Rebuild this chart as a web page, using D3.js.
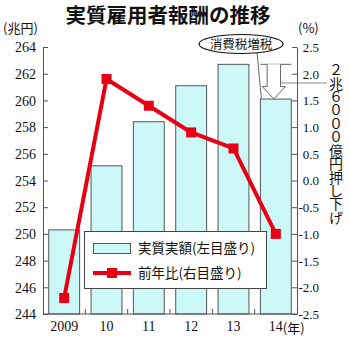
<!DOCTYPE html>
<html>
<head>
<meta charset="utf-8">
<script src="https://cdn.jsdelivr.net/npm/d3@7"></script>
<style>
  html, body { margin: 0; padding: 0; background: #fff; }
  svg { display: block; }
  .num { font-family: "Liberation Serif", "DejaVu Serif", serif; font-size: 14px; fill: #111; }
  .jp { font-family: "Noto Sans CJK JP", sans-serif; fill: #111; }
</style>
</head>
<body>
<svg id="chart" width="350" height="340"></svg>
<script>
// 実質雇用者報酬（兆円）と前年比（％）
const years = ["2009", "10", "11", "12", "13", "14"];
const realAmount = [250.3, 255.1, 258.4, 261.1, 262.7, 260.1];
const yoyChange = [-2.2, 1.9, 1.4, 0.9, 0.6, -1.0];
const leftTicks = [244, 246, 248, 250, 252, 254, 256, 258, 260, 262, 264];
const rightTicks = [-2.5, -2.0, -1.5, -1.0, -0.5, 0.0, 0.5, 1.0, 1.5, 2.0, 2.5];

const svg = d3.select("#chart");
const plotLeft = 43, plotRight = 297, plotTop = 47, plotBottom = 314;
const barFill = "#cdf8f8", barStroke = "#555", red = "#e60013", axisColor = "#555";

const x = d3.scaleBand().domain(years).range([plotLeft, plotRight])
  .paddingInner(0.27).paddingOuter(0.135);
const yL = d3.scaleLinear().domain([244, 264]).range([plotBottom, plotTop]);
const yR = d3.scaleLinear().domain([-2.5, 2.5]).range([plotBottom, plotTop]);

// タイトル
svg.append("text").attr("class", "jp")
  .attr("x", 168).attr("y", 23).attr("text-anchor", "middle")
  .attr("font-size", 20.5).attr("font-weight", "bold")
  .text("実質雇用者報酬の推移");

// 単位
svg.append("text").attr("class", "jp").attr("x", 3).attr("y", 33)
  .attr("font-size", 13).text("(兆円)");
svg.append("text").attr("class", "jp").attr("x", 298).attr("y", 33)
  .attr("font-size", 13).text("(%)");

// 棒（左目盛り）
svg.append("g").selectAll("rect").data(years).join("rect")
  .attr("x", d => x(d))
  .attr("width", x.bandwidth())
  .attr("y", (d, i) => yL(realAmount[i]))
  .attr("height", (d, i) => plotBottom - yL(realAmount[i]))
  .attr("fill", barFill).attr("stroke", barStroke).attr("stroke-width", 1);

// 消費税増税による押し下げ（2013→2014）
const x14 = x("14"), bw = x.bandwidth();
const cx = x14 + bw / 2 - 2;
const yTop = yL(realAmount[4]), yTip = yL(realAmount[5]);
const ann = svg.append("g").attr("stroke", "#666").attr("stroke-width", 1).attr("fill", "none");
ann.append("line").attr("x1", x14).attr("x2", x14 + bw).attr("y1", yTop).attr("y2", yTop);
const shaft = 6.7, wing = 11.5, headLen = 12.5;
ann.append("path").attr("fill", "#fff").attr("d", [
  "M", cx - shaft, yTop,
  "L", cx - shaft, yTip - headLen,
  "L", cx - wing, yTip - headLen,
  "L", cx, yTip,
  "L", cx + wing, yTip - headLen,
  "L", cx + shaft, yTip - headLen,
  "L", cx + shaft, yTop
].join(" "));
ann.append("line").attr("x1", cx + shaft).attr("x2", 327).attr("y1", 83).attr("y2", 83)
  .attr("stroke", "#888");

// 吹き出し
svg.append("line").attr("x1", 257).attr("y1", 52).attr("x2", x14 + 1).attr("y2", yTip)
  .attr("stroke", "#666").attr("stroke-width", 1);
svg.append("ellipse").attr("cx", 241).attr("cy", 44).attr("rx", 42).attr("ry", 9.5)
  .attr("fill", "#fff").attr("stroke", "#111").attr("stroke-width", 1.2);
svg.append("text").attr("class", "jp").attr("x", 241).attr("y", 48.5)
  .attr("text-anchor", "middle").attr("font-size", 12.5).text("消費税増税");

// 縦書き注記
svg.append("text").attr("class", "jp")
  .attr("x", 336).attr("y", 63)
  .attr("font-size", 14)
  .style("writing-mode", "vertical-rl")
  .style("letter-spacing", "-0.6px")
  .text("２兆６０００億円押し下げ");

// 前年比（右目盛り）
const line = d3.line().x((d, i) => x(years[i]) + bw / 2).y(d => yR(d));
svg.append("path").datum(yoyChange).attr("d", line)
  .attr("fill", "none").attr("stroke", red).attr("stroke-width", 4)
  .attr("stroke-linejoin", "round");
svg.append("g").selectAll("rect").data(yoyChange).join("rect")
  .attr("x", (d, i) => x(years[i]) + bw / 2 - 5)
  .attr("y", d => yR(d) - 5)
  .attr("width", 10).attr("height", 10).attr("fill", red);

// 凡例
const lg = svg.append("g");
lg.append("rect").attr("x", 84.5).attr("y", 231.5).attr("width", 182).attr("height", 57)
  .attr("fill", "#fff").attr("stroke", "#444").attr("stroke-width", 1);
lg.append("rect").attr("x", 93.5).attr("y", 243.5).attr("width", 37).attr("height", 10)
  .attr("fill", barFill).attr("stroke", barStroke);
lg.append("text").attr("class", "jp").attr("x", 138).attr("y", 253)
  .attr("font-size", 13.5).text("実質実額(左目盛り)");
lg.append("line").attr("x1", 93).attr("x2", 131).attr("y1", 273).attr("y2", 273)
  .attr("stroke", red).attr("stroke-width", 4);
lg.append("rect").attr("x", 107).attr("y", 268).attr("width", 10).attr("height", 10).attr("fill", red);
lg.append("text").attr("class", "jp").attr("x", 138).attr("y", 278)
  .attr("font-size", 13.5).text("前年比(右目盛り)");

// 軸
const fmtR = d => (d < 0 ? "-" : "") + Math.abs(d).toFixed(1);
const gL = svg.append("g").attr("transform", `translate(${plotLeft},0)`)
  .call(d3.axisLeft(yL).tickValues(leftTicks).tickSize(-5).tickSizeOuter(0).tickPadding(7));
const gR = svg.append("g").attr("transform", `translate(${plotRight},0)`)
  .call(d3.axisRight(yR).tickValues(rightTicks).tickSize(-5).tickSizeOuter(0)
    .tickFormat(fmtR));

[gL, gR].forEach(g => {
  g.selectAll("path,line").attr("stroke", axisColor);
  g.selectAll("text").attr("class", "num").attr("dy", "0.34em");
});
gR.selectAll("text").attr("text-anchor", "end").attr("x", 22).style("font-size", "13px");

// 横軸
svg.append("line").attr("x1", plotLeft).attr("x2", plotRight)
  .attr("y1", plotBottom).attr("y2", plotBottom)
  .attr("stroke", axisColor);
const step = x.step();
svg.append("g").selectAll("line").data(years.slice(1)).join("line")
  .attr("x1", d => x(d) - step * x.paddingInner() / 2)
  .attr("x2", d => x(d) - step * x.paddingInner() / 2)
  .attr("y1", plotBottom).attr("y2", plotBottom - 5)
  .attr("stroke", axisColor);
svg.append("g").selectAll("text").data(years).join("text")
  .attr("class", "num")
  .attr("x", d => x(d) + bw / 2).attr("y", 331)
  .attr("text-anchor", "middle").text(d => d);
svg.append("text").attr("class", "jp")
  .attr("x", x("14") + bw / 2 + 7).attr("y", 333)
  .attr("font-size", 13).text("(年)");
</script>
</body>
</html>
